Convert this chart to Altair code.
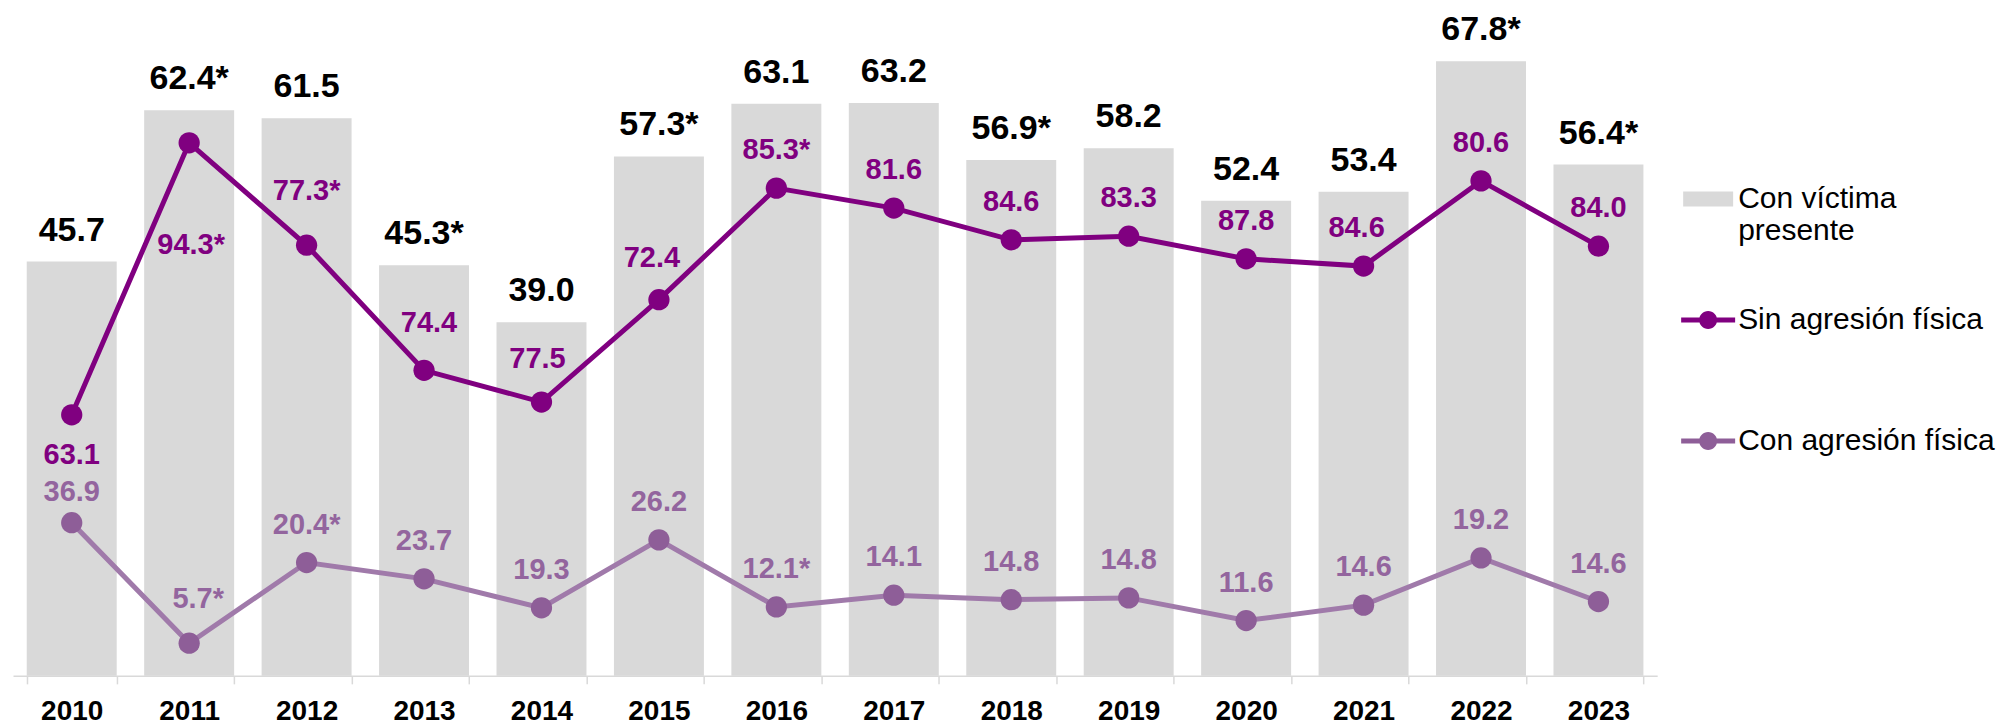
import altair as alt
import pandas as pd

# ---------------- data ----------------
years = ["2010", "2011", "2012", "2013", "2014", "2015", "2016",
         "2017", "2018", "2019", "2020", "2021", "2022", "2023"]

series = ["Con víctima presente", "Sin agresión física", "Con agresión física"]

# bars: "Con víctima presente"
con_victima = [45.7, 62.4, 61.5, 45.3, 39.0, 57.3, 63.1, 63.2, 56.9, 58.2, 52.4, 53.4, 67.8, 56.4]
con_victima_labels = ["45.7", "62.4*", "61.5", "45.3*", "39.0", "57.3*", "63.1",
                      "63.2", "56.9*", "58.2", "52.4", "53.4", "67.8*", "56.4*"]

# lines: printed percentages
sin_agresion_labels = ["63.1", "94.3*", "77.3*", "74.4", "77.5", "72.4", "85.3*",
                       "81.6", "84.6", "83.3", "87.8", "84.6", "80.6", "84.0"]
con_agresion_labels = ["36.9", "5.7*", "20.4*", "23.7", "19.3", "26.2", "12.1*",
                       "14.1", "14.8", "14.8", "11.6", "14.6", "19.2", "14.6"]

sin_agresion_plot = [28.8, 58.8, 47.5, 33.7, 30.2, 41.5, 53.8, 51.6, 48.1, 48.5, 46.0, 45.2, 54.6, 47.4]
con_agresion_plot = [16.9, 3.6, 12.5, 10.7, 7.5, 15.0, 7.6, 8.9, 8.4, 8.6, 6.1, 7.8, 13.0, 8.2]

# ---------------- styling / layout ----------------
FONT = "Liberation Sans, Arial, sans-serif"
BAR = "#d9d9d9"
SIN = "#800080"
CON_PT = "#8e5e98"
CON_LINE = "#a07aaa"
CON_TXT = "#93659e"

# label placement (pixel shifts) per year, default for the rest
sin_shift = {"2010": (0, 40), "2011": (2, 102), "2012": (0, -54), "2013": (5, -47),
             "2014": (-4, -43), "2015": (-7, -42), "2021": (-7, -38)}
con_shift = {"2010": (0, -31), "2011": (9, -44)}
default_shift = (0, -38)

df = pd.DataFrame({
    "year": years,
    "total": con_victima,
    "total_lbl": con_victima_labels,
    "sin": sin_agresion_plot,
    "sin_lbl": sin_agresion_labels,
    "con": con_agresion_plot,
    "con_lbl": con_agresion_labels,
})
df["serie"] = series[0]

base = alt.Chart(df)

x = alt.X(
    "year:O",
    scale=alt.Scale(domain=years, paddingInner=0.234, paddingOuter=0.117),
    axis=alt.Axis(
        title=None, labelAngle=0, labelFont=FONT, labelFontSize=28,
        labelFontWeight="bold", labelColor="black", labelPadding=14,
        domainColor=BAR, domainWidth=1.5, tickColor=BAR, tickWidth=1.5,
        tickSize=8, tickBand="extent", grid=False,
    ),
)
yscale = alt.Scale(domain=[0, 73.1], nice=False, zero=True)


def yenc(field):
    return alt.Y(f"{field}:Q", scale=yscale, axis=None)


rect_path = "M-1,-0.3H1V0.3H-1Z"
line_path = ("M-1.08,-0.1H1.08V0.1H-1.08Z "
             "M0.36,0A0.36,0.36,0,1,1,-0.36,0A0.36,0.36,0,1,1,0.36,0Z")

legend = alt.Legend(
    title=None, orient="none", legendX=1671, legendY=161,
    symbolType={"expr": f"datum.value === '{series[0]}' ? '{rect_path}' : '{line_path}'"},
    symbolSize=2500, symbolStrokeWidth=0, symbolOpacity=1,
    labelFont=FONT, labelFontSize=30, labelColor="black", labelOffset=5,
    labelLimit=600,
    labelExpr=f"datum.value === '{series[0]}' ? ['Con víctima', 'presente'] : datum.label",
    rowPadding=49, gridAlign="all",
)

bars = base.mark_bar(opacity=1).encode(
    x=x,
    y=yenc("total"),
    color=alt.Color("serie:N", scale=alt.Scale(domain=series, range=[BAR, SIN, CON_PT]),
                    legend=legend),
)

bar_text = base.mark_text(font=FONT, fontSize=34, fontWeight="bold", color="black",
                          baseline="middle", dy=-31).encode(
    x=x, y=yenc("total"), text="total_lbl:N")

sin_line = base.mark_line(color=SIN, strokeWidth=5).encode(x=x, y=yenc("sin"))
sin_pts = base.mark_circle(color=SIN, size=452, opacity=1).encode(x=x, y=yenc("sin"))
con_line = base.mark_line(color=CON_LINE, strokeWidth=5).encode(x=x, y=yenc("con"))
con_pts = base.mark_circle(color=CON_PT, size=452, opacity=1).encode(x=x, y=yenc("con"))


def label_layers(field, text_field, color, shifts):
    groups = {}
    for yr in years:
        groups.setdefault(shifts.get(yr, default_shift), []).append(yr)
    layers = []
    for (dx, dy), yrs in groups.items():
        layers.append(
            base.transform_filter(alt.FieldOneOfPredicate(field="year", oneOf=yrs))
            .mark_text(font=FONT, fontSize=29, fontWeight="bold", color=color,
                       baseline="middle", dx=dx, dy=dy)
            .encode(x=x, y=yenc(field), text=f"{text_field}:N")
        )
    return layers


layers = [bars, bar_text, con_line, con_pts, sin_line, sin_pts]
layers += label_layers("sin", "sin_lbl", SIN, sin_shift)
layers += label_layers("con", "con_lbl", CON_TXT, con_shift)

chart = alt.layer(*layers).properties(
    width=1645, height=663,
    padding={"left": 5, "top": 5, "right": 5, "bottom": 0},
    background="white",
).configure_view(stroke=None)

chart.save("out.html", embed_options={"renderer": "svg", "actions": False})
